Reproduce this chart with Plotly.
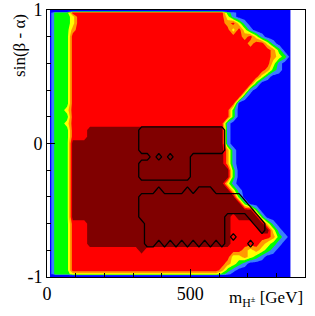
import plotly.graph_objects as go

# m_H+- grid (GeV)
m_charged = [10, 30, 50, 70, 90, 110, 130, 150, 170, 190,
             210, 230, 250, 270, 290, 310, 330, 350, 370, 390,
             410, 430, 450, 470, 490, 510, 530, 550, 570, 590,
             610, 630, 650, 670, 690, 710, 730, 750, 770, 790,
             810, 830, 850]

# sin(beta - alpha) grid, top to bottom
sin_ba = [1.0, 0.98, 0.95, 0.9, 0.85, 0.8, 0.75, 0.7, 0.65, 0.6,
          0.55, 0.5, 0.45, 0.4, 0.35, 0.3, 0.25, 0.2, 0.15, 0.1,
          0.05, 0.0, -0.05, -0.1, -0.15, -0.2, -0.25, -0.3, -0.35, -0.4,
          -0.45, -0.5, -0.55, -0.6, -0.65, -0.7, -0.75, -0.8, -0.85, -0.9,
          -0.95, -0.98, -1.0]

# colour level read per grid cell (x = outer edge, 0 = blue ... 5 = red, 6 = dark red)
level_rows = [
    "xxxxxxxxxx" "xxxxxxxxxx" "xxxxxxxxxx" "xxxxxxxxxx" "xxx",  # 1.00
    "0222555555" "5555555555" "5555555555" "5210000000" "000",  # 0.98
    "0222355555" "5555555555" "5555555555" "5310000000" "000",  # 0.95
    "0222355555" "5555555555" "5555555555" "5453100000" "000",  # 0.90
    "0222455555" "5555555555" "5555555555" "5535310000" "000",  # 0.85
    "0222555555" "5555555555" "5555555555" "5555453100" "000",  # 0.80
    "0222555555" "5555555555" "5555555555" "5555545531" "000",  # 0.75
    "0222555555" "5555555555" "5555555555" "5555555554" "200",  # 0.70
    "0222555555" "5555555555" "5555555555" "5555555554" "320",  # 0.65
    "0222555555" "5555555555" "5555555555" "5555555553" "100",  # 0.60
    "0222555555" "5555555555" "5555555555" "5555555542" "100",  # 0.55
    "0222555555" "5555555555" "5555555555" "5555555310" "000",  # 0.50
    "0222555555" "5555555555" "5555555555" "5555552000" "000",  # 0.45
    "0222555555" "5555555555" "5555555555" "5555510000" "000",  # 0.40
    "0222555555" "5555555555" "5555555555" "5555100000" "000",  # 0.35
    "0222555555" "5555555555" "5555555555" "5550000000" "000",  # 0.30
    "0223555555" "5555555555" "5555555555" "5520000000" "000",  # 0.25
    "0222555555" "5555555555" "5555555555" "5520000000" "000",  # 0.20
    "0223555555" "5555555555" "5555555555" "5100000000" "000",  # 0.15
    "0222555666" "6666666666" "6666666666" "6100000000" "000",  # 0.10
    "0222555666" "6666666666" "6666666666" "6100000000" "000",  # 0.05
    "0222666666" "6666666666" "6666666666" "6100000000" "000",  # 0.00
    "0222666666" "6666666666" "6666666666" "6410000000" "000",  # -0.05
    "0222666666" "6666666666" "6666666666" "6410000000" "000",  # -0.10
    "0222666666" "6666666666" "6666666666" "6410000000" "000",  # -0.15
    "0222666666" "6666666666" "6666666666" "6620000000" "000",  # -0.20
    "0222666666" "6666666666" "6666666666" "6620000000" "000",  # -0.25
    "0222666666" "6666666666" "6666666666" "6310000000" "000",  # -0.30
    "0222666666" "6666666666" "6666666666" "6631000000" "000",  # -0.35
    "0222666666" "6666666666" "6666666666" "6662000000" "000",  # -0.40
    "0222666666" "6666666666" "6666666666" "6666200000" "000",  # -0.45
    "0222666666" "6666666666" "6666666666" "6666662000" "000",  # -0.50
    "0222666666" "6666666666" "6666666666" "6656666200" "000",  # -0.55
    "0222555666" "6666666666" "6666666666" "6655556631" "000",  # -0.60
    "0222555666" "6666666666" "6666666666" "6655555663" "100",  # -0.65
    "0222555666" "6666666666" "6666666666" "6655555554" "210",  # -0.70
    "0222555666" "6666666666" "6666666666" "6655555432" "100",  # -0.75
    "0222555555" "5555556555" "5555555555" "5555434321" "000",  # -0.80
    "0222555555" "5555555555" "5555555555" "5533432100" "000",  # -0.85
    "0222555555" "5555555555" "5555555555" "5432100000" "000",  # -0.90
    "0222555555" "5555555555" "5555555555" "4210000000" "000",  # -0.95
    "0222333333" "3333333333" "3333333333" "2100000000" "000",  # -0.98
    "xxxxxxxxxx" "xxxxxxxxxx" "xxxxxxxxxx" "xxxxxxxxxx" "xxx",  # -1.00
]

# cells inside the black contour
excl_rows = [
    "." * 43,  # 1.00
    "." * 43,  # 0.98
    "." * 43,  # 0.95
    "." * 43,  # 0.90
    "." * 43,  # 0.85
    "." * 43,  # 0.80
    "." * 43,  # 0.75
    "." * 43,  # 0.70
    "." * 43,  # 0.65
    "." * 43,  # 0.60
    "." * 43,  # 0.55
    "." * 43,  # 0.50
    "." * 43,  # 0.45
    "." * 43,  # 0.40
    "." * 43,  # 0.35
    "." * 43,  # 0.30
    "." * 43,  # 0.25
    "." * 43,  # 0.20
    "." * 43,  # 0.15
    ".........." "......####" "##########" "#........." "...",  # 0.10
    ".........." "......####" "##########" "#........." "...",  # 0.05
    ".........." "......####" "##########" "#........." "...",  # 0.00
    ".........." "......####" "##########" "#........." "...",  # -0.05
    ".........." "........#." "#.###....." ".........." "...",  # -0.10
    ".........." "......####" "#####....." ".........." "...",  # -0.15
    ".........." "......####" "#####....." ".........." "...",  # -0.20
    ".........." "......####" "#####....." ".........." "...",  # -0.25
    "." * 43,  # -0.30
    ".........." ".........#" "....#.###." ".........." "...",  # -0.35
    ".........." "......####" "##########" "####......" "...",  # -0.40
    ".........." "......####" "##########" "#####....." "...",  # -0.45
    ".........." "......####" "##########" "######...." "...",  # -0.50
    ".........." "......####" "##########" "#....##..." "...",  # -0.55
    ".........." ".......###" "##########" "#.....##.." "...",  # -0.60
    ".........." ".......###" "##########" "#......#.." "...",  # -0.65
    ".........." ".......###" "##########" "#.#......." "...",  # -0.70
    ".........." ".......##." "#.#.#.#.#." "#....#...." "...",  # -0.75
    "." * 43,  # -0.80
    "." * 43,  # -0.85
    "." * 43,  # -0.90
    "." * 43,  # -0.95
    "." * 43,  # -0.98
    "." * 43,  # -1.00
]

level_value = {"x": -3.0, "0": 0.5, "1": 1.5, "2": 2.5, "3": 3.5,
               "4": 4.5, "5": 5.5, "6": 6.5}
palette = ["#0000ff", "#3a7dff", "#00ff00", "#ffff00", "#ff9900", "#ff0000", "#800000"]

for r in level_rows + excl_rows:
    assert len(r) == len(m_charged), (len(r), r)
assert len(level_rows) == len(sin_ba) == len(excl_rows)

y_asc = sin_ba[::-1]
z_main = [[level_value[c] for c in row] for row in level_rows][::-1]
z_line = [[1.0 if c == "#" else 0.0 for c in row] for row in excl_rows][::-1]

colorscale = [[k / 6, palette[k]] for k in range(7)]

fig = go.Figure()
fig.add_trace(go.Contour(
    x=m_charged, y=y_asc, z=z_main,
    colorscale=colorscale, showscale=False, autocontour=False,
    contours=dict(start=1, end=6, size=1, coloring="fill", showlines=False),
    line=dict(width=0, smoothing=0), hoverinfo="skip"))
fig.add_trace(go.Contour(
    x=m_charged, y=y_asc, z=z_line,
    showscale=False, autocontour=False,
    contours=dict(start=0.5, end=0.5, size=1, coloring="none"),
    line=dict(color="black", width=1.3, smoothing=0), hoverinfo="skip"))

axis_common = dict(
    ticks="inside", tickcolor="black", tickwidth=1, ticklen=8,
    showline=True, linecolor="black", linewidth=1, mirror=True,
    showgrid=False, zeroline=False, automargin=False,
    tickfont=dict(family="Liberation Serif", size=18, color="black"))

fig.update_xaxes(range=[0, 900], tickvals=[0, 500], ticktext=["0", "500"],
                 minor=dict(ticks="inside", ticklen=4, dtick=100, tick0=0, tickcolor="black"),
                 **axis_common)
fig.update_yaxes(range=[-1, 1], tickvals=[-1, 0, 1], ticktext=["-1", "0", "1"],
                 minor=dict(ticks="inside", ticklen=4, dtick=0.2, tick0=0, tickcolor="black"),
                 **axis_common)

fig.update_layout(
    width=315, height=316,
    margin=dict(l=47, r=10, t=10, b=39, autoexpand=False),
    paper_bgcolor="white", plot_bgcolor="white", showlegend=False,
    font=dict(family="Liberation Serif", size=18, color="black"),
    annotations=[
        dict(text="sin(β - α)", xref="paper", yref="paper", x=-0.105, y=0.869,
             textangle=-90, showarrow=False, xanchor="center", yanchor="middle",
             font=dict(family="Liberation Serif", size=17, color="black")),
        dict(text="m<sub>H<sup>±</sup></sub> [GeV]", xref="paper", yref="paper",
             x=1.0, y=-0.082, showarrow=False, xanchor="right", yanchor="middle",
             font=dict(family="Liberation Serif", size=17, color="black")),
    ])

fig.write_html("out.html",
               config={"displayModeBar": False, "staticPlot": True},
               post_script="document.body.style.margin='0px';document.body.style.overflow='hidden';")
